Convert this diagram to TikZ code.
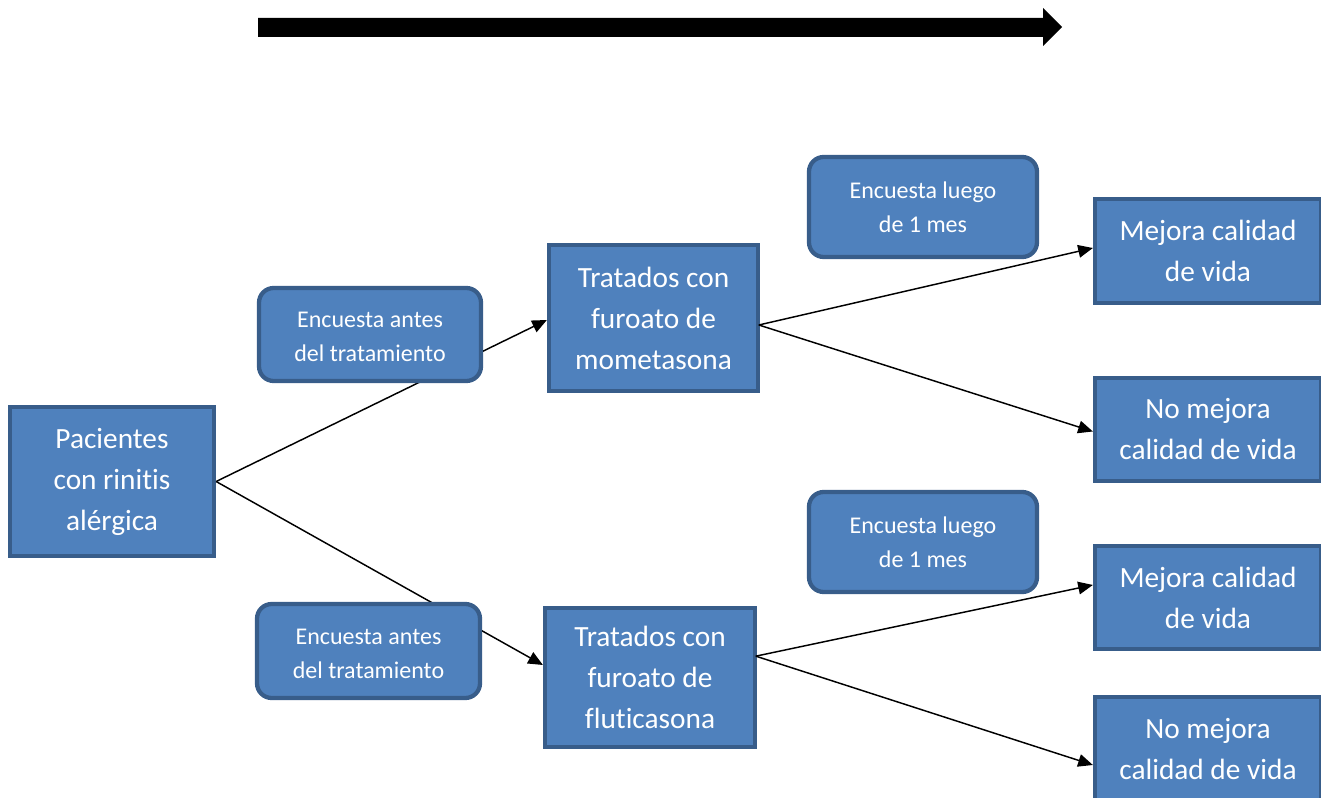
\documentclass[tikz,border=0pt]{standalone}
\usepackage{fontspec}
\setmainfont{Carlito}[Ligatures={NoCommon}]
\usetikzlibrary{arrows.meta}
\definecolor{boxfill}{HTML}{4F81BD}
\definecolor{boxline}{HTML}{385D8A}
\newcommand{\twolines}[2]{\raisebox{0pt}[\dimexpr\height+5pt\relax][\depth]{\begin{tabular}{@{}c@{}}#1\\#2\end{tabular}}}
\tikzset{
  box/.style={draw=boxline, fill=boxfill, line width=3.2pt, text=white, align=center, inner sep=0pt},
  bigbox/.style={box, font=\fontsize{22}{30.75}\selectfont},
  survey/.style={box, rounded corners=11pt, font=\fontsize{18}{25.5}\selectfont},
  conn/.style={line width=1.1pt, -{Triangle[length=11pt,width=9.5pt]}}
}
\begin{document}
\begin{tikzpicture}[x=0.75pt,y=-0.75pt]
\useasboundingbox (0,0) rectangle (1321,798);
\fill[white] (0,0) rectangle (1321,798);
% top timeline arrow
\fill[black] (258,18) -- (1043,18) -- (1043,8) -- (1062,27) -- (1043,46) -- (1043,37) -- (258,37) -- cycle;
% main boxes
\node[bigbox, minimum width=153pt, minimum height=111.75pt] (pac) at (112,481.5) {Pacientes\\con rinitis\\alérgica};
\node[bigbox, minimum width=156.75pt, minimum height=109.5pt] (mom) at (653.5,318) {Tratados con\\furoato de\\mometasona};
\node[bigbox, minimum width=157.5pt, minimum height=104.25pt] (flu) at (650,677.5) {Tratados con\\furoato de\\fluticasona};
\node[bigbox, minimum width=169.5pt, minimum height=78pt] (mej1) at (1208,251) {Mejora calidad\\de vida};
\node[bigbox, minimum width=169.5pt, minimum height=77.25pt] (nomej1) at (1208,429.5) {No mejora\\calidad de vida};
\node[bigbox, minimum width=169.5pt, minimum height=77.25pt] (mej2) at (1208,597.5) {Mejora calidad\\de vida};
\node[bigbox, minimum width=169.5pt, minimum height=78pt] (nomej2) at (1208,749) {No mejora\\calidad de vida};
\node[survey, minimum width=171pt, minimum height=75pt] (luego1) at (923,207) {Encuesta luego\\de 1 mes};
\node[survey, minimum width=171pt, minimum height=75pt] (luego2) at (923,542) {Encuesta luego\\de 1 mes};
% connectors
\draw[conn] (pac.east) -- ([yshift=-1.5pt]mom.west);
\draw[conn] (pac.east) -- ([yshift=9.4pt]flu.west);
\draw[conn] ([xshift=-1pt,yshift=-5.25pt]mom.east) -- ([yshift=2.25pt]mej1.west);
\draw[conn] ([xshift=-1pt,yshift=-5.25pt]mom.east) -- ([yshift=-1.5pt]nomej1.west);
\draw[conn] ([xshift=-1pt,yshift=16pt]flu.east) -- ([yshift=9.4pt]mej2.west);
\draw[conn] ([xshift=-1pt,yshift=16pt]flu.east) -- ([yshift=-12pt]nomej2.west);
% survey boxes over the connectors
\node[survey, minimum width=166.5pt, minimum height=69.75pt] (antes1) at (370,334.5) {\twolines{Encuesta antes}{del tratamiento}};
\node[survey, minimum width=167.25pt, minimum height=70.5pt] (antes2) at (368.5,651) {\twolines{Encuesta antes}{del tratamiento}};
\end{tikzpicture}
\end{document}
